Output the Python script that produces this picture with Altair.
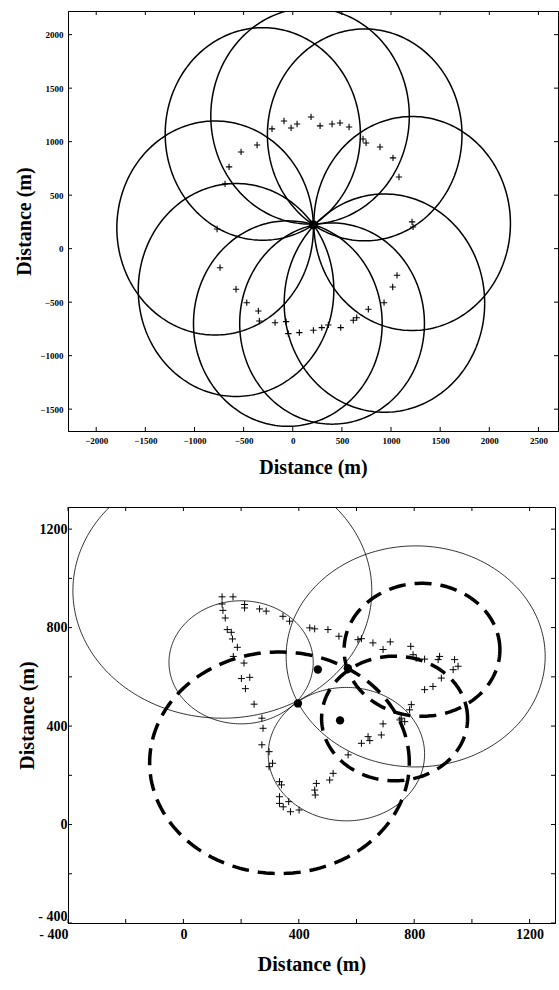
import numpy as np
import pandas as pd
import altair as alt

# ---------------- top panel data ----------------
top_center = [210, 223]
top_circle_cx = [1215, 732, 176, -305, -790, -577, -50, 400, 933]
top_circle_cy = [235, 1063, 1240, 1072, 193, -386, -700, -700, -509]
top_circle_r = [1000, 990, 1010, 993, 1000, 995, 960, 940, 1020]

top_plus_x = [-211, -89, -17, 44, 186, 278, 400, 481, 573, 715, 746, 888, 1020, 1081,
              1214, 1224, 1061, 1017, -363, -526, -648, -689, -770, -740, -577, -468,
              -350, -340, -180, -68, -45, 67, 210, 295, 362, 488, 616, 651, 769, 929]
top_plus_y = [1119, 1193, 1128, 1165, 1231, 1147, 1165, 1175, 1137, 1025, 988, 950, 848, 670,
              250, 203, -249, -358, 969, 904, 764, 605, 184, -178, -379, -505,
              -582, -676, -692, -682, -794, -785, -763, -738, -713, -738, -669, -645, -566, -505]

top_x_ticks = [-2000, -1500, -1000, -500, 0, 500, 1000, 1500, 2000, 2500]
top_y_ticks = [-1500, -1000, -500, 0, 500, 1000, 1500, 2000]

# ---------------- bottom panel data ----------------
bot_thin_cx = [135, 200, 805, 565]
bot_thin_cy = [950, 659, 683, 286]
bot_thin_r = [518, 250, 449, 271]

bot_dash_cx = [333, 827, 732]
bot_dash_cy = [251, 710, 431]
bot_dash_r = [450, 270, 253]

bot_dot_x = [397, 570, 466, 543]
bot_dot_y = [492, 635, 630, 423]

bot_plus_x = [134, 172, 134, 212, 212, 264, 287, 137, 145, 152, 166, 170, 187, 173, 210, 201,
              230, 215, 245, 272, 276, 345, 368, 438, 455, 501, 539, 605, 617, 657, 692, 717,
              788, 796, 807, 836, 888, 883, 940, 952, 935, 894, 865, 836, 790, 784, 755, 767,
              750, 692, 686, 640, 617, 646, 571, 519, 507, 461, 455, 272, 297, 309, 297, 333,
              340, 333, 333, 365, 346, 371, 401, 457]
bot_plus_y = [925, 925, 896, 894, 880, 876, 867, 870, 839, 792, 781, 754, 720, 683, 656, 593,
              598, 552, 489, 432, 391, 846, 826, 799, 795, 792, 765, 751, 755, 738, 711, 742,
              724, 690, 676, 672, 683, 670, 670, 643, 629, 595, 561, 548, 487, 466, 432, 418,
              425, 409, 364, 357, 330, 341, 283, 208, 181, 167, 140, 324, 296, 249, 235, 174,
              161, 113, 86, 93, 72, 52, 59, 120]

bot_ticks = [-400, -200, 0, 200, 400, 600, 800, 1000, 1200]


def rings(cx, cy, r, n=241):
    t = np.linspace(0, 2 * np.pi, n)
    rows = []
    for i, (a, b, c) in enumerate(zip(cx, cy, r)):
        for k, tt in enumerate(t):
            rows.append({"cid": i, "k": k, "x": a + c * np.cos(tt), "y": b + c * np.sin(tt)})
    return pd.DataFrame(rows)


FONT = "Liberation Serif"
PLUS = "M-1,0L1,0M0,-1L0,1"
TL = 4  # inward tick length


def axis(values, title, size, lab_pad, title_pad, expr, align=None, baseline=None):
    kw = dict(values=values, title=title, labelFontSize=size, labelFontWeight="bold",
              titleFontSize=20, titleFontWeight="bold", ticks=False, labelPadding=lab_pad,
              titlePadding=title_pad, grid=False, domainColor="black", labelColor="black",
              titleColor="black", labelFont=FONT, titleFont=FONT, labelExpr=expr,
              labelFlush=False)
    if align is not None:
        kw["labelAlign"] = align
    if baseline is not None:
        kw["labelBaseline"] = baseline
    return alt.Axis(**kw)


def inner_ticks(xvals, yvals, xs, ys, w, h):
    tx_df = pd.DataFrame({"v": xvals})
    ty_df = pd.DataFrame({"v": yvals})
    bx_t = alt.Chart(tx_df).mark_rule(color="black", strokeWidth=1).encode(
        x=alt.X("v:Q", scale=xs), y=alt.value(h - TL), y2=alt.value(h))
    tp_t = alt.Chart(tx_df).mark_rule(color="black", strokeWidth=1).encode(
        x=alt.X("v:Q", scale=xs), y=alt.value(0), y2=alt.value(TL))
    lf_t = alt.Chart(ty_df).mark_rule(color="black", strokeWidth=1).encode(
        y=alt.Y("v:Q", scale=ys), x=alt.value(0), x2=alt.value(TL))
    rt_t = alt.Chart(ty_df).mark_rule(color="black", strokeWidth=1).encode(
        y=alt.Y("v:Q", scale=ys), x=alt.value(w - TL), x2=alt.value(w))
    return [bx_t, tp_t, lf_t, rt_t]


# ---------------- top chart ----------------
TW, TH = 490, 420
tx = alt.Scale(domain=[-2287, 2699], nice=False, zero=False)
ty = alt.Scale(domain=[-1704, 2221], nice=False, zero=False)
fmt = "format(datum.value, 'd')"

tx_axis = axis(top_x_ticks, "Distance (m)", 9, 5, 12, fmt)
ty_axis = axis(top_y_ticks, "Distance (m)", 9, 5, 5, fmt)

top_rings = alt.Chart(rings(top_circle_cx, top_circle_cy, top_circle_r)).mark_line(
    color="black", strokeWidth=1.5, clip=True
).encode(
    x=alt.X("x:Q", scale=tx, axis=tx_axis),
    y=alt.Y("y:Q", scale=ty, axis=ty_axis),
    detail="cid:N",
    order="k:Q",
)

top_plus = alt.Chart(pd.DataFrame({"x": top_plus_x, "y": top_plus_y})).mark_point(
    shape=PLUS, size=40, color="black", strokeWidth=1.1, filled=False, opacity=1
).encode(x=alt.X("x:Q", scale=tx), y=alt.Y("y:Q", scale=ty))

top_dot = alt.Chart(pd.DataFrame({"x": [top_center[0]], "y": [top_center[1]]})).mark_circle(
    size=80, color="black", opacity=1
).encode(x=alt.X("x:Q", scale=tx), y=alt.Y("y:Q", scale=ty))

top_chart = alt.layer(
    top_rings, top_plus, top_dot, *inner_ticks(top_x_ticks, top_y_ticks, tx, ty, TW, TH)
).properties(width=TW, height=TH)

# ---------------- bottom chart ----------------
BW, BH = 487, 416
bx = alt.Scale(domain=[-400, 1288], nice=False, zero=False)
by = alt.Scale(domain=[-400, 1290], nice=False, zero=False)

lab_expr = ("datum.value % 400 == 0 ? (datum.value < 0 ? '- ' + abs(datum.value) : "
            "format(datum.value, 'd')) : ''")

bx_axis = axis(bot_ticks, "Distance (m)", 14, 4, 13, lab_expr,
               align={"expr": "datum.value == -400 ? 'right' : 'center'"})
by_axis = axis(bot_ticks, "Distance (m)", 14, 1, 0, lab_expr,
               baseline={"expr": "datum.value == -400 ? 'bottom' : 'middle'"})

bot_thin = alt.Chart(rings(bot_thin_cx, bot_thin_cy, bot_thin_r)).mark_line(
    color="black", strokeWidth=0.8, clip=True
).encode(
    x=alt.X("x:Q", scale=bx, axis=bx_axis),
    y=alt.Y("y:Q", scale=by, axis=by_axis),
    detail="cid:N",
    order="k:Q",
)

bot_dash = alt.Chart(rings(bot_dash_cx, bot_dash_cy, bot_dash_r)).mark_line(
    color="black", strokeWidth=3.5, strokeDash=[17, 9], clip=True
).encode(
    x=alt.X("x:Q", scale=bx),
    y=alt.Y("y:Q", scale=by),
    detail="cid:N",
    order="k:Q",
)

bot_plus = alt.Chart(pd.DataFrame({"x": bot_plus_x, "y": bot_plus_y})).mark_point(
    shape=PLUS, size=49, color="black", strokeWidth=1, filled=False, opacity=1
).encode(x=alt.X("x:Q", scale=bx), y=alt.Y("y:Q", scale=by))

bot_dots = alt.Chart(pd.DataFrame({"x": bot_dot_x, "y": bot_dot_y})).mark_circle(
    size=70, color="black", opacity=1
).encode(x=alt.X("x:Q", scale=bx), y=alt.Y("y:Q", scale=by))

bot_chart = alt.layer(
    bot_thin, bot_dash, bot_plus, bot_dots, *inner_ticks(bot_ticks, bot_ticks, bx, by, BW, BH)
).properties(width=BW, height=BH)

chart = alt.vconcat(top_chart, bot_chart, spacing=28).properties(
    padding={"left": 14, "top": 10, "right": 0, "bottom": 0}, background="white"
).configure_view(stroke="black", strokeWidth=1)

chart.save("out.html", embed_options={"renderer": "svg", "actions": False})
